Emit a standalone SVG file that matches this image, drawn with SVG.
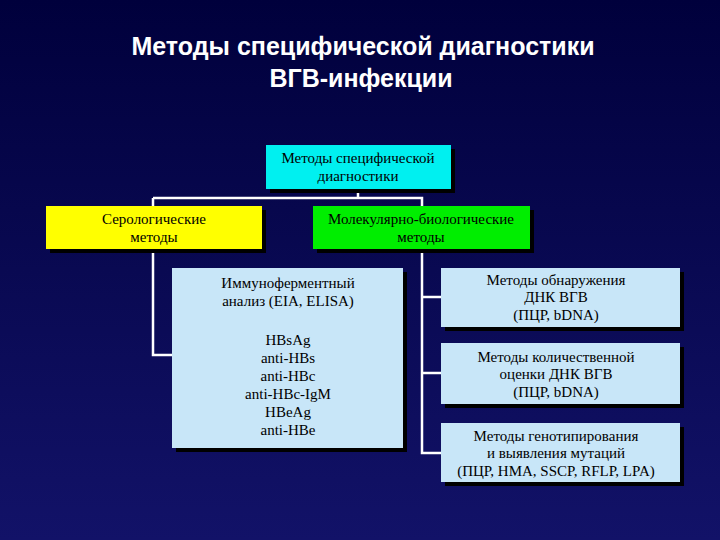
<svg xmlns="http://www.w3.org/2000/svg" width="720" height="540" viewBox="0 0 720 540">
<defs>
<linearGradient id="bg" x1="0" y1="0" x2="0" y2="1"><stop offset="0" stop-color="#00003c"/><stop offset="1" stop-color="#121268"/></linearGradient>
<style>
.t{font-family:"Liberation Serif",serif;font-size:15px;fill:#000;text-anchor:middle}
.h{font-family:"Liberation Sans",Arial,sans-serif;font-size:25px;font-weight:bold;fill:#fff;text-anchor:middle}
.sh{fill:#000}
.ln{stroke:#fff;stroke-width:2.5;fill:none}
</style>
</defs>
<rect width="720" height="540" fill="url(#bg)"/>
<text class="h" x="363" y="55">Методы специфической диагностики</text>
<text class="h" x="361" y="87">ВГВ-инфекции</text>
<g id="connectors">
<path class="ln" d="M358 189V198M153 198H422V206M153 198V206M153 249V355H172M422 249V453H441M422 297H441M422 373H441"/>
</g>
<g id="top"><rect class="sh" x="270" y="149" width="185" height="44"/><rect x="266" y="145" width="185" height="44" fill="#00f0f0"/>
<text class="t" x="358" y="163">Методы специфической</text><text class="t" x="358" y="181">диагностики</text></g>
<g id="sero"><rect class="sh" x="50" y="210" width="216" height="43"/><rect x="46" y="206" width="216" height="43" fill="#ffff00"/>
<text class="t" x="154" y="224">Серологические</text><text class="t" x="154" y="242">методы</text></g>
<g id="mol"><rect class="sh" x="317" y="210" width="217" height="43"/><rect x="313" y="206" width="217" height="43" fill="#00ee00"/>
<text class="t" x="421" y="224">Молекулярно-биологические</text><text class="t" x="421" y="242">методы</text></g>
<g id="elisa"><rect class="sh" x="176" y="272" width="231" height="180"/><rect x="172" y="268" width="231" height="180" fill="#c8e6f8"/>
<text class="t" x="288" y="288">Иммуноферментный</text><text class="t" x="288" y="306">анализ (EIA, ELISA)</text>
<text class="t" x="288" y="345">HBsAg</text><text class="t" x="288" y="363">anti-HBs</text><text class="t" x="288" y="381">anti-HBc</text><text class="t" x="288" y="399">anti-HBc-IgM</text><text class="t" x="288" y="417">HBeAg</text><text class="t" x="288" y="435">anti-HBe</text></g>
<g id="r1"><rect class="sh" x="445" y="272" width="239" height="59"/><rect x="441" y="268" width="239" height="59" fill="#c8e6f8"/>
<text class="t" x="556" y="285">Методы обнаружения</text><text class="t" x="556" y="302">ДНК ВГВ</text><text class="t" x="556" y="320">(ПЦР, bDNA)</text></g>
<g id="r2"><rect class="sh" x="445" y="347" width="239" height="61"/><rect x="441" y="343" width="239" height="61" fill="#c8e6f8"/>
<text class="t" x="556" y="362">Методы количественной</text><text class="t" x="556" y="379">оценки ДНК ВГВ</text><text class="t" x="556" y="397">(ПЦР, bDNA)</text></g>
<g id="r3"><rect class="sh" x="445" y="427" width="239" height="59"/><rect x="441" y="423" width="239" height="59" fill="#c8e6f8"/>
<text class="t" x="556" y="441">Методы генотипирования</text><text class="t" x="556" y="458">и выявления мутаций</text><text class="t" x="556" y="476">(ПЦР, HMA, SSCP, RFLP, LPA)</text></g>
</svg>
